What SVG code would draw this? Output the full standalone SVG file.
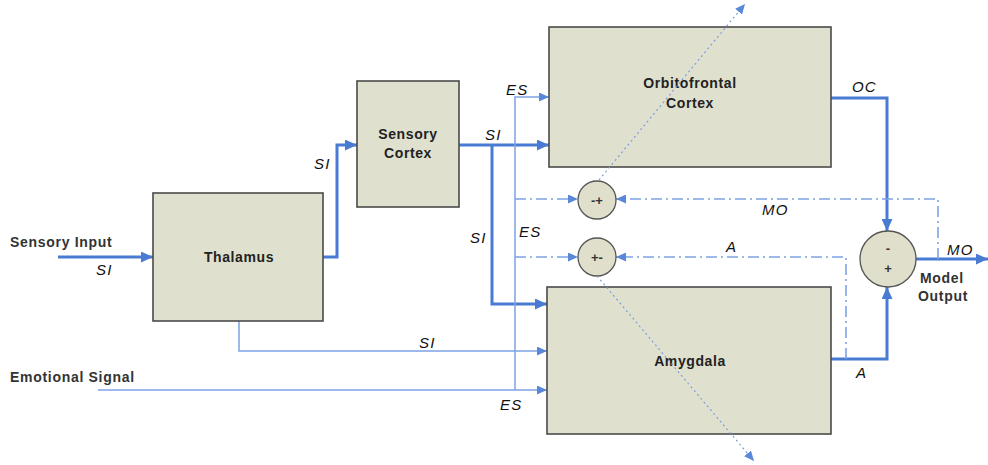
<svg xmlns="http://www.w3.org/2000/svg" width="988" height="465" viewBox="0 0 988 465">
<style>
.box{fill:#e0e0cf;stroke:#4a4a4a;stroke-width:1.6}
.sum{fill:#e0dfcb;stroke:#555;stroke-width:1.3}
.bt{font-family:"Liberation Sans",Arial,sans-serif;font-weight:bold;font-size:14px;letter-spacing:0.6px;fill:#222;text-anchor:middle}
.lt{font-family:"Liberation Sans",Arial,sans-serif;font-weight:bold;font-size:14px;letter-spacing:0.7px;fill:#333}
.it{font-family:"Liberation Sans",Arial,sans-serif;font-style:italic;font-size:15px;letter-spacing:1.2px;fill:#111}
.st{font-family:"Liberation Sans",Arial,sans-serif;font-weight:bold;font-size:13px;fill:#333;text-anchor:middle}
.thick{fill:none;stroke:#4a7bd3;stroke-width:3}
.thin{fill:none;stroke:#7ea3e6;stroke-width:1.5}
.dd{fill:none;stroke:#7ea3e6;stroke-width:1.6;stroke-dasharray:11 4 2 4}
.dot{fill:none;stroke:#7398e0;stroke-width:1.1;stroke-dasharray:2 3}
</style>
<defs>
<marker id="ak" markerUnits="userSpaceOnUse" markerWidth="12" markerHeight="11" refX="12" refY="5.5" orient="auto"><path d="M0,0 L12,5.5 L0,11 z" fill="#4a7bd3"/></marker>
<marker id="an" markerUnits="userSpaceOnUse" markerWidth="10" markerHeight="9" refX="10" refY="4.5" orient="auto"><path d="M0,0 L10,4.5 L0,9 z" fill="#5a88d8"/></marker>
</defs>
<rect width="988" height="465" fill="#ffffff"/>

<g id="connectors">
<path class="thick" d="M58,257 H153" marker-end="url(#ak)"/>
<path class="thick" d="M323,257 H337 V145 H357" marker-end="url(#ak)"/>
<path class="thick" d="M459,145 H549" marker-end="url(#ak)"/>
<path class="thick" d="M492,145 V304 H547" marker-end="url(#ak)"/>
<path class="thick" d="M831,98 H887 V231" marker-end="url(#ak)"/>
<path class="thick" d="M831,359 H887 V287" marker-end="url(#ak)"/>
<path class="thick" d="M916,259 H988" marker-end="url(#ak)"/>
<path class="thin" d="M515,390 V97 H549" marker-end="url(#an)"/>
<path class="thin" d="M239,321 V351 H547" marker-end="url(#an)"/>
<path class="thin" d="M98,390 H547" marker-end="url(#an)"/>
<path class="dd" d="M515,199 H578" marker-end="url(#an)"/>
<path class="dd" d="M515,257 H578" marker-end="url(#an)"/>
<path class="dd" d="M938,259 V199 H616" marker-end="url(#an)"/>
<path class="dd" d="M846,359 V257 H616" marker-end="url(#an)"/>
</g>

<g id="thalamus">
<rect class="box" x="153" y="193" width="170" height="128"/>
<text class="bt" x="239" y="262">Thalamus</text>
</g>
<g id="sensory-cortex">
<rect class="box" x="357" y="81" width="102" height="126"/>
<text class="bt" x="408" y="139">Sensory</text>
<text class="bt" x="408" y="158">Cortex</text>
</g>
<g id="orbitofrontal-cortex">
<rect class="box" x="549" y="27" width="282" height="140"/>
<text class="bt" x="690" y="88">Orbitofrontal</text>
<text class="bt" x="690" y="108">Cortex</text>
</g>
<g id="amygdala">
<rect class="box" x="547" y="287" width="284" height="147"/>
<text class="bt" x="690" y="366">Amygdala</text>
</g>
<g id="sum-oc">
<circle class="sum" cx="597" cy="200" r="19"/>
<text class="st" x="597" y="205">-+</text>
</g>
<g id="sum-a">
<circle class="sum" cx="597" cy="257" r="19"/>
<text class="st" x="597" y="262">+-</text>
</g>
<g id="sum-out">
<circle class="sum" cx="888" cy="259" r="28"/>
<text class="st" x="888" y="253">-</text>
<text class="st" x="888" y="273">+</text>
</g>

<g id="learning-connectors">
<path class="dot" d="M599,180 L745,4" marker-end="url(#an)"/>
<path class="dot" d="M597,276 L754,461" marker-end="url(#an)"/>
</g>

<g id="labels">
<text class="lt" x="10" y="247">Sensory Input</text>
<text class="lt" x="10" y="382">Emotional Signal</text>
<text class="lt" x="920" y="283">Model</text>
<text class="lt" x="918" y="301">Output</text>
<text class="it" x="96" y="275">SI</text>
<text class="it" x="314" y="169">SI</text>
<text class="it" x="485" y="140">SI</text>
<text class="it" x="506" y="95">ES</text>
<text class="it" x="470" y="243">SI</text>
<text class="it" x="519" y="237">ES</text>
<text class="it" x="419" y="348">SI</text>
<text class="it" x="500" y="410">ES</text>
<text class="it" x="852" y="92">OC</text>
<text class="it" x="762" y="215">MO</text>
<text class="it" x="726" y="252">A</text>
<text class="it" x="856" y="378">A</text>
<text class="it" x="947" y="255">MO</text>
</g>
</svg>
